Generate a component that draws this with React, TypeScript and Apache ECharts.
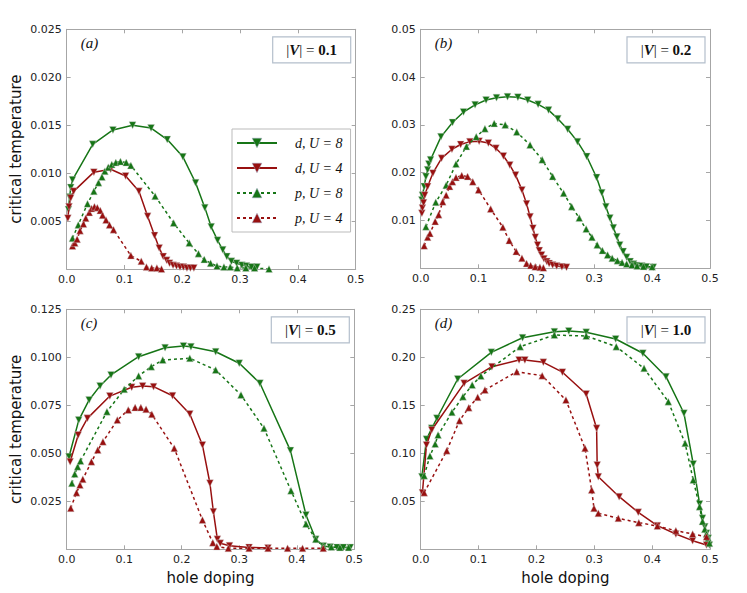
import React, { useEffect, useRef } from "react";
import * as echarts from "echarts";

// ---------- data ----------
const xTicks = [0, 0.1, 0.2, 0.3, 0.4, 0.5];
const panelLabels = ["(a)", "(b)", "(c)", "(d)"];
const panelV = ["0.1", "0.2", "0.5", "1.0"];
const yMax = [0.025, 0.05, 0.125, 0.25];
const yStep = [0.005, 0.01, 0.025, 0.05];
const yDecimals = [3, 2, 3, 2];
const seriesNames = ["d, U = 8", "d, U = 4", "p, U = 8", "p, U = 4"];

// panel (a) |V| = 0.1
const aX_dU8 = [0.003, 0.005, 0.007, 0.010, 0.045, 0.080, 0.114, 0.146, 0.174, 0.201, 0.223, 0.239, 0.250, 0.261, 0.270, 0.277, 0.285, 0.294, 0.303, 0.311, 0.320, 0.329];
const aY_dU8 = [0.0062, 0.0075, 0.0085, 0.0093, 0.0130, 0.0145, 0.0150, 0.0147, 0.0135, 0.0117, 0.0090, 0.0064, 0.0044, 0.0030, 0.0020, 0.0013, 0.0008, 0.0006, 0.0004, 0.0003, 0.0002, 0.0002];
const aX_dU4 = [0.002, 0.004, 0.007, 0.012, 0.047, 0.076, 0.102, 0.125, 0.140, 0.152, 0.160, 0.167, 0.173, 0.178, 0.184, 0.190, 0.196, 0.202, 0.208, 0.214, 0.220];
const aY_dU4 = [0.0053, 0.0065, 0.0074, 0.0081, 0.0101, 0.0104, 0.0097, 0.0081, 0.0055, 0.0035, 0.0022, 0.0013, 0.0009, 0.0006, 0.0004, 0.0003, 0.0002, 0.0002, 0.0001, 0.0001, 0.0001];
const aX_pU8 = [0.010, 0.020, 0.036, 0.047, 0.055, 0.061, 0.066, 0.072, 0.078, 0.085, 0.093, 0.103, 0.111, 0.153, 0.185, 0.212, 0.228, 0.238, 0.249, 0.260, 0.272, 0.283, 0.295, 0.310, 0.325, 0.350];
const aY_pU8 = [0.0032, 0.0046, 0.0068, 0.0081, 0.0090, 0.0096, 0.0102, 0.0106, 0.0109, 0.0111, 0.0112, 0.0111, 0.0108, 0.0076, 0.0048, 0.0027, 0.0016, 0.0010, 0.0006, 0.0003, 0.0002, 0.0002, 0.0001, 0.0001, 0.0001, 0.0000];
const aX_pU4 = [0.010, 0.014, 0.018, 0.023, 0.029, 0.033, 0.039, 0.043, 0.048, 0.053, 0.058, 0.062, 0.068, 0.074, 0.081, 0.111, 0.129, 0.138, 0.147, 0.156, 0.164];
const aY_pU4 = [0.0024, 0.0027, 0.0031, 0.0040, 0.0047, 0.0053, 0.0059, 0.0063, 0.0065, 0.0064, 0.0061, 0.0056, 0.0051, 0.0046, 0.0041, 0.0014, 0.0008, 0.0002, 0.0001, 0.0001, 0.0000];

// panel (b) |V| = 0.2
const bX_dU8 = [0.002, 0.003, 0.006, 0.009, 0.012, 0.014, 0.017, 0.035, 0.055, 0.074, 0.094, 0.113, 0.131, 0.150, 0.168, 0.185, 0.203, 0.221, 0.237, 0.254, 0.271, 0.287, 0.304, 0.313, 0.320, 0.327, 0.333, 0.339, 0.344, 0.350, 0.356, 0.362, 0.368, 0.373, 0.382, 0.390, 0.402];
const bY_dU8 = [0.0143, 0.0153, 0.0171, 0.0192, 0.0206, 0.0218, 0.0227, 0.0275, 0.0305, 0.0327, 0.0342, 0.0352, 0.0357, 0.0359, 0.0358, 0.0352, 0.0343, 0.0331, 0.0313, 0.0291, 0.0265, 0.0234, 0.0190, 0.0158, 0.0129, 0.0105, 0.0085, 0.0066, 0.0049, 0.0035, 0.0023, 0.0014, 0.0009, 0.0006, 0.0005, 0.0003, 0.0002];
const bX_dU4 = [0.002, 0.003, 0.005, 0.007, 0.012, 0.021, 0.036, 0.054, 0.069, 0.085, 0.101, 0.117, 0.130, 0.143, 0.154, 0.164, 0.175, 0.183, 0.189, 0.194, 0.198, 0.202, 0.205, 0.209, 0.213, 0.218, 0.222, 0.228, 0.235, 0.244, 0.252];
const bY_dU4 = [0.0115, 0.0126, 0.0137, 0.0153, 0.0171, 0.0199, 0.0230, 0.0249, 0.0259, 0.0265, 0.0266, 0.0262, 0.0251, 0.0235, 0.0216, 0.0195, 0.0164, 0.0135, 0.0108, 0.0084, 0.0065, 0.0049, 0.0037, 0.0028, 0.0020, 0.0014, 0.0010, 0.0007, 0.0005, 0.0003, 0.0002];
const bX_pU8 = [0.009, 0.026, 0.044, 0.061, 0.079, 0.096, 0.111, 0.127, 0.146, 0.166, 0.189, 0.210, 0.228, 0.247, 0.261, 0.274, 0.286, 0.296, 0.305, 0.314, 0.323, 0.331, 0.340, 0.348, 0.356, 0.365, 0.374, 0.385, 0.400];
const bY_pU8 = [0.0087, 0.0138, 0.0174, 0.0218, 0.0255, 0.0275, 0.0292, 0.0303, 0.0300, 0.0285, 0.0258, 0.0227, 0.0192, 0.0157, 0.0129, 0.0105, 0.0082, 0.0065, 0.0049, 0.0037, 0.0028, 0.0021, 0.0016, 0.0012, 0.0009, 0.0007, 0.0005, 0.0004, 0.0003];
const bX_pU4 = [0.006, 0.012, 0.016, 0.025, 0.031, 0.038, 0.044, 0.050, 0.055, 0.061, 0.071, 0.081, 0.090, 0.100, 0.121, 0.142, 0.153, 0.165, 0.175, 0.183, 0.190, 0.198, 0.206, 0.212];
const bY_pU4 = [0.0047, 0.0065, 0.0073, 0.0098, 0.0112, 0.0139, 0.0153, 0.0171, 0.0181, 0.0190, 0.0194, 0.0192, 0.0181, 0.0164, 0.0124, 0.0086, 0.0058, 0.0035, 0.0021, 0.0010, 0.0006, 0.0003, 0.0002, 0.0001];

// panel (c) |V| = 0.5
const cX_dU8 = [0.004, 0.021, 0.039, 0.058, 0.077, 0.125, 0.171, 0.203, 0.216, 0.259, 0.300, 0.336, 0.389, 0.416, 0.433, 0.446, 0.458, 0.470, 0.481, 0.493];
const cY_dU8 = [0.0482, 0.0673, 0.0778, 0.0851, 0.0908, 0.1003, 0.1050, 0.1059, 0.1055, 0.1029, 0.0969, 0.0865, 0.0514, 0.0179, 0.0052, 0.0017, 0.0012, 0.0010, 0.0010, 0.0009];
const cX_dU4 = [0.006, 0.020, 0.036, 0.075, 0.113, 0.132, 0.151, 0.184, 0.214, 0.236, 0.249, 0.255, 0.262, 0.267, 0.283, 0.317, 0.350];
const cY_dU4 = [0.0456, 0.0595, 0.0682, 0.0798, 0.0844, 0.0850, 0.0847, 0.0800, 0.0705, 0.0543, 0.0344, 0.0196, 0.0052, 0.0031, 0.0019, 0.0010, 0.0007];
const cX_pU8 = [0.009, 0.014, 0.019, 0.024, 0.070, 0.100, 0.125, 0.147, 0.167, 0.214, 0.259, 0.303, 0.343, 0.390, 0.416, 0.433, 0.446, 0.460, 0.475, 0.490];
const cY_pU8 = [0.0344, 0.0392, 0.0430, 0.0460, 0.0717, 0.0833, 0.0903, 0.0951, 0.0986, 0.0995, 0.0934, 0.0804, 0.0630, 0.0305, 0.0132, 0.0052, 0.0017, 0.0012, 0.0010, 0.0010];
const cX_pU4 = [0.007, 0.017, 0.023, 0.028, 0.043, 0.054, 0.063, 0.088, 0.107, 0.119, 0.129, 0.138, 0.148, 0.187, 0.236, 0.254, 0.261, 0.281, 0.317, 0.350, 0.384, 0.410, 0.446];
const cY_pU4 = [0.0214, 0.0295, 0.0335, 0.0365, 0.0456, 0.0517, 0.0560, 0.0673, 0.0726, 0.0738, 0.0738, 0.0729, 0.0703, 0.0526, 0.0153, 0.0034, 0.0014, 0.0005, 0.0005, 0.0005, 0.0005, 0.0005, 0.0005];

// panel (d) |V| = 1.0
const dX_dU8 = [0.002, 0.010, 0.019, 0.028, 0.064, 0.122, 0.176, 0.231, 0.256, 0.286, 0.337, 0.384, 0.424, 0.455, 0.471, 0.482, 0.487, 0.491, 0.494, 0.497, 0.499];
const dY_dU8 = [0.0756, 0.1146, 0.1260, 0.1365, 0.1774, 0.2052, 0.2204, 0.2267, 0.2274, 0.2260, 0.2191, 0.2042, 0.1798, 0.1417, 0.0889, 0.0472, 0.0323, 0.0235, 0.0167, 0.0115, 0.0045];
const dX_dU4 = [0.003, 0.010, 0.019, 0.075, 0.123, 0.170, 0.180, 0.212, 0.245, 0.286, 0.304, 0.305, 0.307, 0.343, 0.376, 0.409, 0.441, 0.470, 0.494];
const dY_dU4 = [0.0590, 0.1086, 0.1243, 0.1729, 0.1902, 0.1972, 0.1972, 0.1948, 0.1845, 0.1618, 0.1260, 0.0878, 0.0756, 0.0548, 0.0385, 0.0246, 0.0159, 0.0090, 0.0045];
const dX_pU8 = [0.006, 0.016, 0.025, 0.030, 0.054, 0.073, 0.089, 0.104, 0.172, 0.231, 0.286, 0.338, 0.386, 0.428, 0.457, 0.471, 0.482, 0.487, 0.491, 0.494, 0.497, 0.499];
const dY_pU8 = [0.0767, 0.0972, 0.1097, 0.1190, 0.1427, 0.1590, 0.1711, 0.1805, 0.2111, 0.2232, 0.2222, 0.2111, 0.1885, 0.1538, 0.1104, 0.0722, 0.0444, 0.0290, 0.0210, 0.0160, 0.0115, 0.0063];
const dX_pU4 = [0.006, 0.045, 0.067, 0.083, 0.0985, 0.111, 0.166, 0.210, 0.251, 0.284, 0.2955, 0.2995, 0.307, 0.3415, 0.377, 0.409, 0.441, 0.470, 0.494];
const dY_pU4 = [0.0590, 0.1027, 0.1340, 0.1475, 0.1583, 0.1660, 0.1850, 0.1808, 0.1555, 0.1052, 0.0618, 0.0427, 0.0375, 0.0323, 0.0277, 0.0243, 0.0194, 0.0159, 0.0131];

const panels = [
  [[aX_dU8, aY_dU8], [aX_dU4, aY_dU4], [aX_pU8, aY_pU8], [aX_pU4, aY_pU4]],
  [[bX_dU8, bY_dU8], [bX_dU4, bY_dU4], [bX_pU8, bY_pU8], [bX_pU4, bY_pU4]],
  [[cX_dU8, cY_dU8], [cX_dU4, cY_dU4], [cX_pU8, cY_pU8], [cX_pU4, cY_pU4]],
  [[dX_dU8, dY_dU8], [dX_dU4, dY_dU4], [dX_pU8, dY_pU8], [dX_pU4, dY_pU4]],
];

// ---------- styles ----------
const GREEN = "#167516";
const RED = "#981010";
const FRAME = "#a6a6a6";
const seriesColor = [GREEN, RED, GREEN, RED];
const seriesDashed = [false, false, true, true];
const seriesDown = [true, true, false, false];

const grids = [
  { left: 66.7, top: 29.3, width: 289, height: 239.7 },
  { left: 420.7, top: 29.3, width: 289.3, height: 239 },
  { left: 66.7, top: 309.3, width: 287.6, height: 240 },
  { left: 420.7, top: 309.3, width: 289.3, height: 240 },
];

export default function App() {
  const ref = useRef<HTMLDivElement>(null);
  useEffect(() => {
    if (!ref.current) return;
    const chart = echarts.init(ref.current, null, { renderer: "svg" });

    const tickFont = { fontFamily: "DejaVu Sans", fontSize: 11, color: "#222" };
    const xAxis: any[] = [];
    const yAxis: any[] = [];
    const series: any[] = [];
    const graphic: any[] = [];

    grids.forEach((g, i) => {
      const common = {
        gridIndex: i,
        type: "value",
        axisLine: { show: true, onZero: false, lineStyle: { color: FRAME, width: 1 } },
        axisTick: { show: true, inside: true, length: 4, lineStyle: { color: FRAME } },
        splitLine: { show: false },
      };
      xAxis.push({
        ...common,
        position: "bottom",
        min: 0,
        max: 0.5,
        interval: 0.1,
        axisLabel: { ...tickFont, margin: 5, formatter: (v: number) => v.toFixed(1) },
        name: i >= 2 ? "hole doping" : "",
        nameLocation: "middle",
        nameGap: 21,
        nameTextStyle: { fontFamily: "DejaVu Sans", fontSize: 15, color: "#111" },
      });
      xAxis.push({
        ...common,
        position: "top",
        min: 0,
        max: 0.5,
        interval: 0.1,
        axisLabel: { show: false },
      });
      yAxis.push({
        ...common,
        position: "left",
        min: 0,
        max: yMax[i],
        interval: yStep[i],
        axisLabel: {
          ...tickFont,
          margin: 5,
          formatter: (v: number) => (v === 0 ? "" : v.toFixed(yDecimals[i])),
        },
        name: i % 2 === 0 ? "critical temperature" : "",
        nameLocation: "middle",
        nameGap: 43,
        nameTextStyle: { fontFamily: "DejaVu Sans", fontSize: 15, color: "#111" },
      });
      yAxis.push({
        ...common,
        position: "right",
        min: 0,
        max: yMax[i],
        interval: yStep[i],
        axisLabel: { show: false },
      });

      panels[i].forEach(([xs, ys], k) => {
        series.push({
          type: "line",
          name: seriesNames[k],
          xAxisIndex: 2 * i,
          yAxisIndex: 2 * i,
          data: xs.map((x: number, j: number) => [x, ys[j]]),
          symbol: "triangle",
          symbolSize: 7,
          symbolRotate: seriesDown[k] ? 180 : 0,
          showAllSymbol: true,
          lineStyle: {
            color: seriesColor[k],
            width: 1.5,
            type: seriesDashed[k] ? [3, 3] : "solid",
          },
          itemStyle: { color: seriesColor[k], borderColor: "#d0d0d0", borderWidth: 0.4 },
          z: 2 + k,
        });
      });

      // panel label
      graphic.push({
        type: "text",
        left: g.left + 14,
        top: g.top + 6,
        style: {
          text: panelLabels[i],
          fontFamily: "Liberation Serif",
          fontStyle: "italic",
          fontSize: 15,
          fill: "#111",
        },
      });
      // |V| box
      const bx = g.left + g.width - 83;
      const by = g.top + 7.5;
      graphic.push({
        type: "rect",
        shape: { x: bx, y: by, width: 78, height: 26 },
        style: { fill: "#fff", stroke: "#b4bfcc", lineWidth: 1.2 },
        z: 10,
      });
      graphic.push({
        type: "text",
        x: bx + 39,
        y: by + 13,
        z: 11,
        style: {
          text: "{n||}{v|V}{n|| = }{b|" + panelV[i] + "}",
          align: "center",
          verticalAlign: "middle",
          rich: {
            n: { fontFamily: "Liberation Serif", fontSize: 15, fill: "#111" },
            v: { fontFamily: "Liberation Serif", fontSize: 15, fontStyle: "italic", fontWeight: "bold", fill: "#111" },
            b: { fontFamily: "Liberation Serif", fontSize: 15, fontWeight: "bold", fill: "#111" },
          },
        },
      });
    });

    chart.setOption({
      animation: false,
      backgroundColor: "#fff",
      grid: grids.map((g) => ({ ...g, containLabel: false })),
      xAxis,
      yAxis,
      series,
      legend: {
        data: seriesNames,
        left: 232,
        top: 129,
        orient: "vertical",
        itemWidth: 40,
        itemHeight: 12,
        itemGap: 11,
        padding: [7, 8, 7, 4],
        borderColor: "#bbbbbb",
        borderWidth: 1,
        backgroundColor: "#fff",
        itemStyle: { borderWidth: 0.5, borderColor: "#9aa4c0" },
        textStyle: {
          fontFamily: "Liberation Serif",
          fontStyle: "italic",
          fontSize: 14,
          color: "#111",
          padding: [0, 0, 0, 13],
        },
      },
      graphic,
    });

    return () => chart.dispose();
  }, []);

  return (
    <div
      ref={ref}
      style={{ position: "fixed", left: 0, top: 0, width: 747, height: 593, background: "#fff" }}
    />
  );
}
